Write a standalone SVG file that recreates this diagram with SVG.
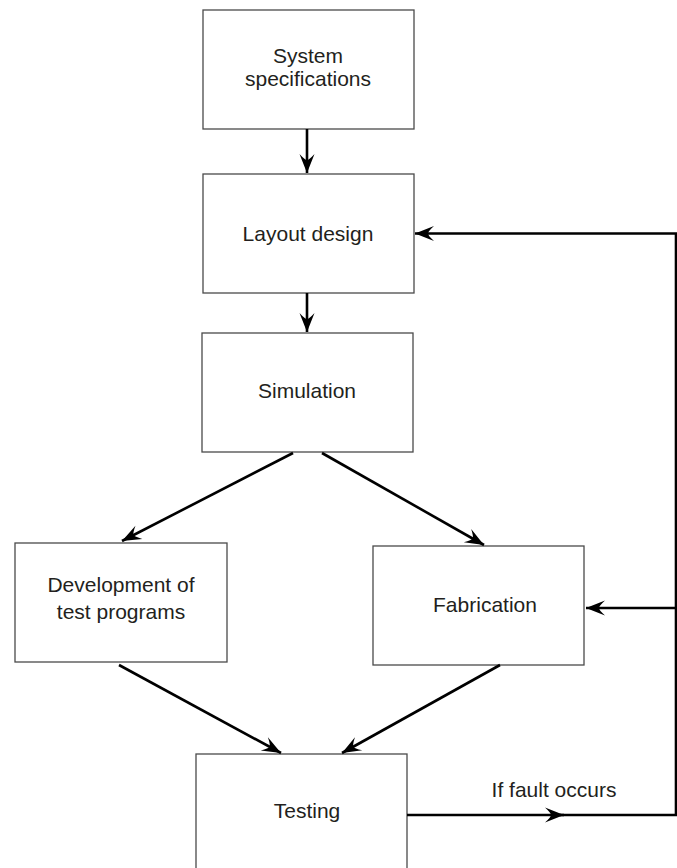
<svg xmlns="http://www.w3.org/2000/svg" width="677" height="868" viewBox="0 0 677 868">
<style>
.box{fill:#fff;stroke:#4a4a4a;stroke-width:1.3}
.t{font-family:"Liberation Sans",Arial,sans-serif;font-size:21px;fill:#231f20;text-anchor:middle}
.c{fill:none;stroke:#000;stroke-width:2.6}
</style>
<defs>
<marker id="ah" markerUnits="userSpaceOnUse" markerWidth="22" markerHeight="18" viewBox="-20 -9 22 18" refX="0" refY="0" orient="auto">
<path d="M0,0 L-19,-7.5 Q-13,-2 -13,0 Q-13,2 -19,7.5 Z" fill="#000"/>
</marker>
</defs>
<rect width="677" height="868" fill="#fff"/>
<g id="system-specifications">
<rect class="box" x="203" y="10" width="211" height="119"/>
<text class="t" x="308" y="63">System</text>
<text class="t" x="308" y="86">specifications</text>
</g>
<g id="layout-design">
<rect class="box" x="203" y="174" width="211" height="119"/>
<text class="t" x="308" y="241">Layout design</text>
</g>
<g id="simulation">
<rect class="box" x="202" y="333" width="211" height="119"/>
<text class="t" x="307" y="398">Simulation</text>
</g>
<g id="development">
<rect class="box" x="15" y="543" width="212" height="119"/>
<text class="t" x="121" y="592">Development of</text>
<text class="t" x="121" y="619">test programs</text>
</g>
<g id="fabrication">
<rect class="box" x="373" y="546" width="211" height="119"/>
<text class="t" x="485" y="612">Fabrication</text>
</g>
<g id="testing">
<rect class="box" x="196" y="754" width="211" height="120"/>
<text class="t" x="307" y="818">Testing</text>
</g>
<g id="connectors">
<path class="c" d="M307,129 L307,173" marker-end="url(#ah)"/>
<path class="c" d="M307,293 L307,332" marker-end="url(#ah)"/>
<path class="c" d="M293,453 L122,541" marker-end="url(#ah)"/>
<path class="c" d="M322,453 L484,545" marker-end="url(#ah)"/>
<path class="c" d="M119,665 L281,753" marker-end="url(#ah)"/>
<path class="c" d="M500,665 L342,753" marker-end="url(#ah)"/>
<path class="c" d="M407,815 L564,815" marker-end="url(#ah)"/>
<path class="c" d="M560,815 L676,815 L676,233.5 L415,233.5" marker-end="url(#ah)"/>
<path class="c" d="M676,608 L586,608" marker-end="url(#ah)"/>
<text class="t" x="554" y="797">If fault occurs</text>
</g>
</svg>
